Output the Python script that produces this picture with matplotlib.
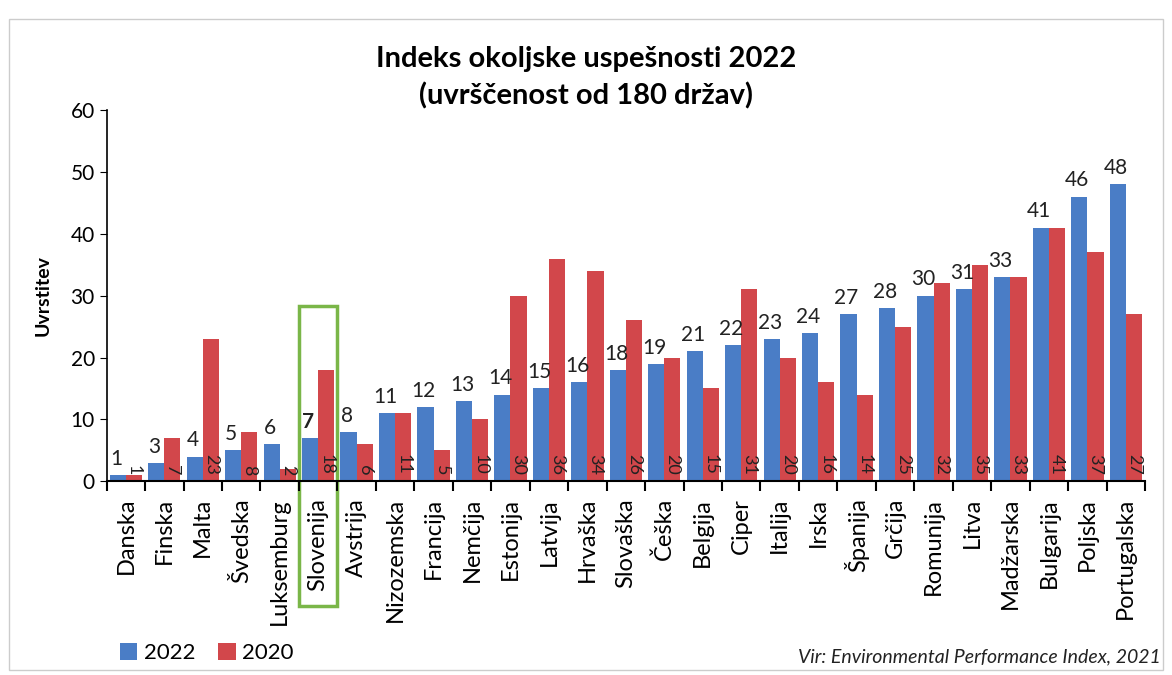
import numpy as np
import matplotlib
matplotlib.use("Agg")
import matplotlib.pyplot as plt
from matplotlib.patches import Rectangle

plt.rcParams['font.family'] = ['Lato', 'DejaVu Sans']

drzave = ["Danska", "Finska", "Malta", "Švedska", "Luksemburg", "Slovenija",
          "Avstrija", "Nizozemska", "Francija", "Nemčija", "Estonija", "Latvija",
          "Hrvaška", "Slovaška", "Češka", "Belgija", "Ciper", "Italija", "Irska",
          "Španija", "Grčija", "Romunija", "Litva", "Madžarska", "Bulgarija",
          "Poljska", "Portugalska"]
rang_2022 = [1, 3, 4, 5, 6, 7, 8, 11, 12, 13, 14, 15, 16, 18, 19, 21, 22, 23, 24,
             27, 28, 30, 31, 33, 41, 46, 48]
rang_2020 = [1, 7, 23, 8, 2, 18, 6, 11, 5, 10, 30, 36, 34, 26, 20, 15, 31, 20, 16,
             14, 25, 32, 35, 33, 41, 37, 27]

modra = "#4a7dc6"
rdeca = "#d2474b"

fig = plt.figure(figsize=(11.72, 6.75), dpi=100)
ax = fig.add_axes([0.091, 0.287, 0.886, 0.55])

x = np.arange(len(drzave))
w = 0.42
b1 = ax.bar(x - w / 2, rang_2022, w, color=modra, label="2022")
b2 = ax.bar(x + w / 2, rang_2020, w, color=rdeca, label="2020")

# vrednosti 2022 nad stolpci
for i, v in enumerate(rang_2022):
    ax.text(x[i] - w / 2 - 0.05, v + 1.0, str(v), ha="center", va="bottom",
            fontsize=15, color="#222222",
            fontweight="bold" if drzave[i] == "Slovenija" else "normal")

# vrednosti 2020 navpično ob dnu stolpcev
for i, v in enumerate(rang_2020):
    ax.text(x[i] + w / 2, 1.0, str(v), ha="center", va="bottom",
            rotation=270, fontsize=13, color="#222222")

ax.set_xlim(-0.5, len(drzave) - 0.5)
ax.set_ylim(0, 60)
ax.set_yticks(range(0, 61, 10))
ax.tick_params(axis="y", labelsize=15, direction="out", length=5)
ax.set_xticks(x)
ax.set_xticklabels(drzave, rotation=90, fontsize=17)
ax.tick_params(axis="x", length=0, pad=12)
ax.set_xticks(np.arange(-0.5, len(drzave), 1), minor=True)
ax.tick_params(axis="x", which="minor", length=7, width=1.5, direction="out")
ax.spines["top"].set_visible(False)
ax.spines["right"].set_visible(False)
ax.spines["bottom"].set_linewidth(1.5)
ax.spines["left"].set_linewidth(1.2)
ax.set_ylabel("Uvrstitev", fontsize=14, fontweight="bold", labelpad=14)

# okvir okrog Slovenije
si = drzave.index("Slovenija")
ax.add_patch(Rectangle((si - 0.5, -20.2), 1.0, 48.6, fill=False,
                       edgecolor="#7ab648", linewidth=2.5, clip_on=False))

fig.text(0.5, 0.885, "Indeks okoljske uspešnosti 2022\n(uvrščenost od 180 držav)",
         ha="center", va="center", fontsize=21, fontweight="bold", linespacing=1.45)

fig.legend(handles=[b1, b2], loc="lower left", bbox_to_anchor=(0.085, -0.012),
           ncol=2, frameon=False, fontsize=16, handlelength=0.8, handleheight=0.8,
           handletextpad=0.3, columnspacing=1.0)

fig.text(0.99, 0.015, "Vir: Environmental Performance Index, 2021", ha="right",
         va="bottom", fontsize=14, style="italic", color="#222222")

fig.add_artist(Rectangle((0.008, 0.008), 0.984, 0.964, transform=fig.transFigure,
                         fill=False, edgecolor="#cccccc", linewidth=1))

fig.savefig("out.png", dpi=100)
